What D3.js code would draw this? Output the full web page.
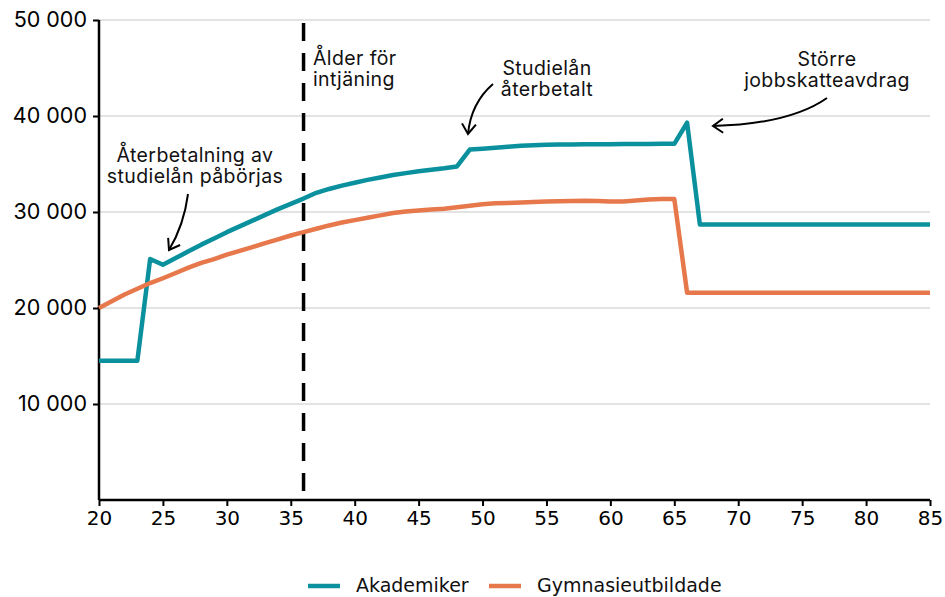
<!DOCTYPE html>
<html>
<head>
<meta charset="utf-8">
<script src="https://cdn.jsdelivr.net/npm/d3@7"></script>
<style>
  body { margin: 0; background: #fff; }
  svg text { font-family: "Inter", "Noto Sans", sans-serif; }
</style>
</head>
<body>
<div class="chart"></div>
<script>
const svgWidth = 945
const svgHeight = 597

let margin = { top: 20, right: 15, left: 99, bottom: 97 }
let width = svgWidth - margin.left - margin.right
let height = svgHeight - margin.top - margin.bottom

// ages 20..85
const ages = d3.range(20, 86)

const akademiker = [
  14500, 14500, 14500, 14500, 25100, 24500, 25200, 25900, 26600, 27250,
  27900, 28500, 29100, 29700, 30300, 30850, 31400, 32000, 32400, 32750,
  33050, 33350, 33600, 33850, 34050, 34250, 34400, 34550, 34750, 36500,
  36600, 36700, 36800, 36900, 36950, 37000, 37020, 37040, 37050, 37060,
  37070, 37080, 37080, 37090, 37100, 37100, 39300, 28700, 28700, 28700,
  28700, 28700, 28700, 28700, 28700, 28700, 28700, 28700, 28700, 28700,
  28700, 28700, 28700, 28700, 28700, 28700
]

const gymnasie = [
  20000, 20700, 21400, 22000, 22600, 23100, 23650, 24200, 24700, 25100,
  25550, 25950, 26350, 26750, 27150, 27550, 27900, 28250, 28600, 28900,
  29150, 29400, 29650, 29900, 30050, 30150, 30250, 30350, 30500, 30650,
  30800, 30900, 30950, 31000, 31050, 31100, 31120, 31150, 31170, 31150,
  31100, 31100, 31200, 31300, 31350, 31350, 21600, 21600, 21600, 21600,
  21600, 21600, 21600, 21600, 21600, 21600, 21600, 21600, 21600, 21600,
  21600, 21600, 21600, 21600, 21600, 21600
]

const seriesNames = ["Akademiker", "Gymnasieutbildade"]
const seriesColors = ["#0a919d", "#e6784b"]
const xTicks = d3.range(20, 86, 5)
const yTicks = [10000, 20000, 30000, 40000, 50000]
const intjaningAge = 36

let svg = d3.select(".chart")
  .append("svg")
  .attr("width", svgWidth)
  .attr("height", svgHeight)

let chartGroup = svg.append("g")
  .attr("transform", `translate(${margin.left}, ${margin.top})`)

let x = d3.scaleLinear().domain([20, 85]).range([0, width])
let y = d3.scaleLinear().domain([0, 50000]).range([height, 0])

const fmt = v => d3.format(",")(v).replace(",", " ")

// grid
chartGroup.append("g")
  .selectAll("line")
  .data(yTicks)
  .enter()
  .append("line")
  .attr("x1", 0)
  .attr("x2", width)
  .attr("y1", d => y(d))
  .attr("y2", d => y(d))
  .attr("stroke", "#e3e3e3")
  .attr("stroke-width", 2)

// y axis
let yAxis = chartGroup.append("g")
  .call(d3.axisLeft(y).tickValues(yTicks).tickFormat(fmt).tickSize(6).tickPadding(6))
yAxis.select(".domain").attr("stroke", "#000").attr("stroke-width", 2.5).attr("d", `M0,0V${height}`)
yAxis.selectAll(".tick line").attr("stroke", "#000").attr("stroke-width", 2)
yAxis.selectAll("text").attr("font-size", 21.5).attr("fill", "#000")

// x axis
let xAxis = chartGroup.append("g")
  .attr("transform", `translate(0, ${height})`)
  .call(d3.axisBottom(x).tickValues(xTicks).tickSize(6).tickPadding(5))
xAxis.select(".domain").attr("stroke", "#000").attr("stroke-width", 2.5).attr("d", `M0,0H${width}`)
xAxis.selectAll(".tick line").attr("stroke", "#000").attr("stroke-width", 2)
xAxis.selectAll("text")
  .attr("font-size", 20)
  .attr("fill", "#000")
  .style("font-family", "'DejaVu Sans', Verdana, sans-serif")

// dashed vertical line
chartGroup.append("line")
  .attr("x1", x(intjaningAge))
  .attr("x2", x(intjaningAge))
  .attr("y1", 3)
  .attr("y2", height)
  .attr("stroke", "#000")
  .attr("stroke-width", 3.5)
  .attr("stroke-dasharray", "18,12")

// lines
let line = d3.line()
  .x((d, i) => x(ages[i]))
  .y(d => y(d))

;[akademiker, gymnasie].forEach((vals, k) => {
  chartGroup.append("path")
    .datum(vals)
    .attr("d", line)
    .attr("fill", "none")
    .attr("stroke", seriesColors[k])
    .attr("stroke-width", 4.5)
    .attr("stroke-linejoin", "round")
})

// annotations
svg.append("defs").append("marker")
  .attr("id", "arrow")
  .attr("viewBox", "-12 -8 14 16")
  .attr("markerWidth", 14)
  .attr("markerHeight", 16)
  .attr("markerUnits", "userSpaceOnUse")
  .attr("orient", "auto")
  .append("path")
  .attr("d", "M-10,-7 L0,0 L-10,7")
  .attr("fill", "none")
  .attr("stroke", "#000")
  .attr("stroke-width", 2)

function note(lines, tx, ty, anchor) {
  lines.forEach((s, i) => {
    svg.append("text")
      .attr("text-anchor", anchor)
      .attr("font-size", 19.5)
      .attr("letter-spacing", 0.4)
      .attr("fill", "#111")
      .attr("x", tx)
      .attr("y", ty + i * 21)
      .text(s)
  })
}

function arrow(d) {
  svg.append("path")
    .attr("d", d)
    .attr("fill", "none")
    .attr("stroke", "#000")
    .attr("stroke-width", 2)
    .attr("marker-end", "url(#arrow)")
}

note(["Ålder för", "intjäning"], 313, 65, "start")
note(["Återbetalning av", "studielån påbörjas"], 195, 162, "middle")
note(["Studielån", "återbetalt"], 547, 75, "middle")
note(["Större", "jobbskatteavdrag"], 827, 66, "middle")

arrow("M188,194 Q184,225 169,250")
arrow("M493,84 Q471,103 468,134")
arrow("M827,98 Q790,124 713,126")

// legend
let legend = svg.append("g").attr("transform", "translate(0, 592)")
const legendX = [308, 489]
seriesNames.forEach((name, k) => {
  legend.append("line")
    .attr("x1", legendX[k]).attr("x2", legendX[k] + 32)
    .attr("y1", -6).attr("y2", -6)
    .attr("stroke", seriesColors[k])
    .attr("stroke-width", 4.5)
  legend.append("text")
    .attr("x", legendX[k] + 48)
    .attr("y", 0)
    .attr("font-size", 19)
    .style("font-family", "'DejaVu Sans', Verdana, sans-serif")
    .attr("fill", "#111")
    .text(name)
})
</script>
</body>
</html>
